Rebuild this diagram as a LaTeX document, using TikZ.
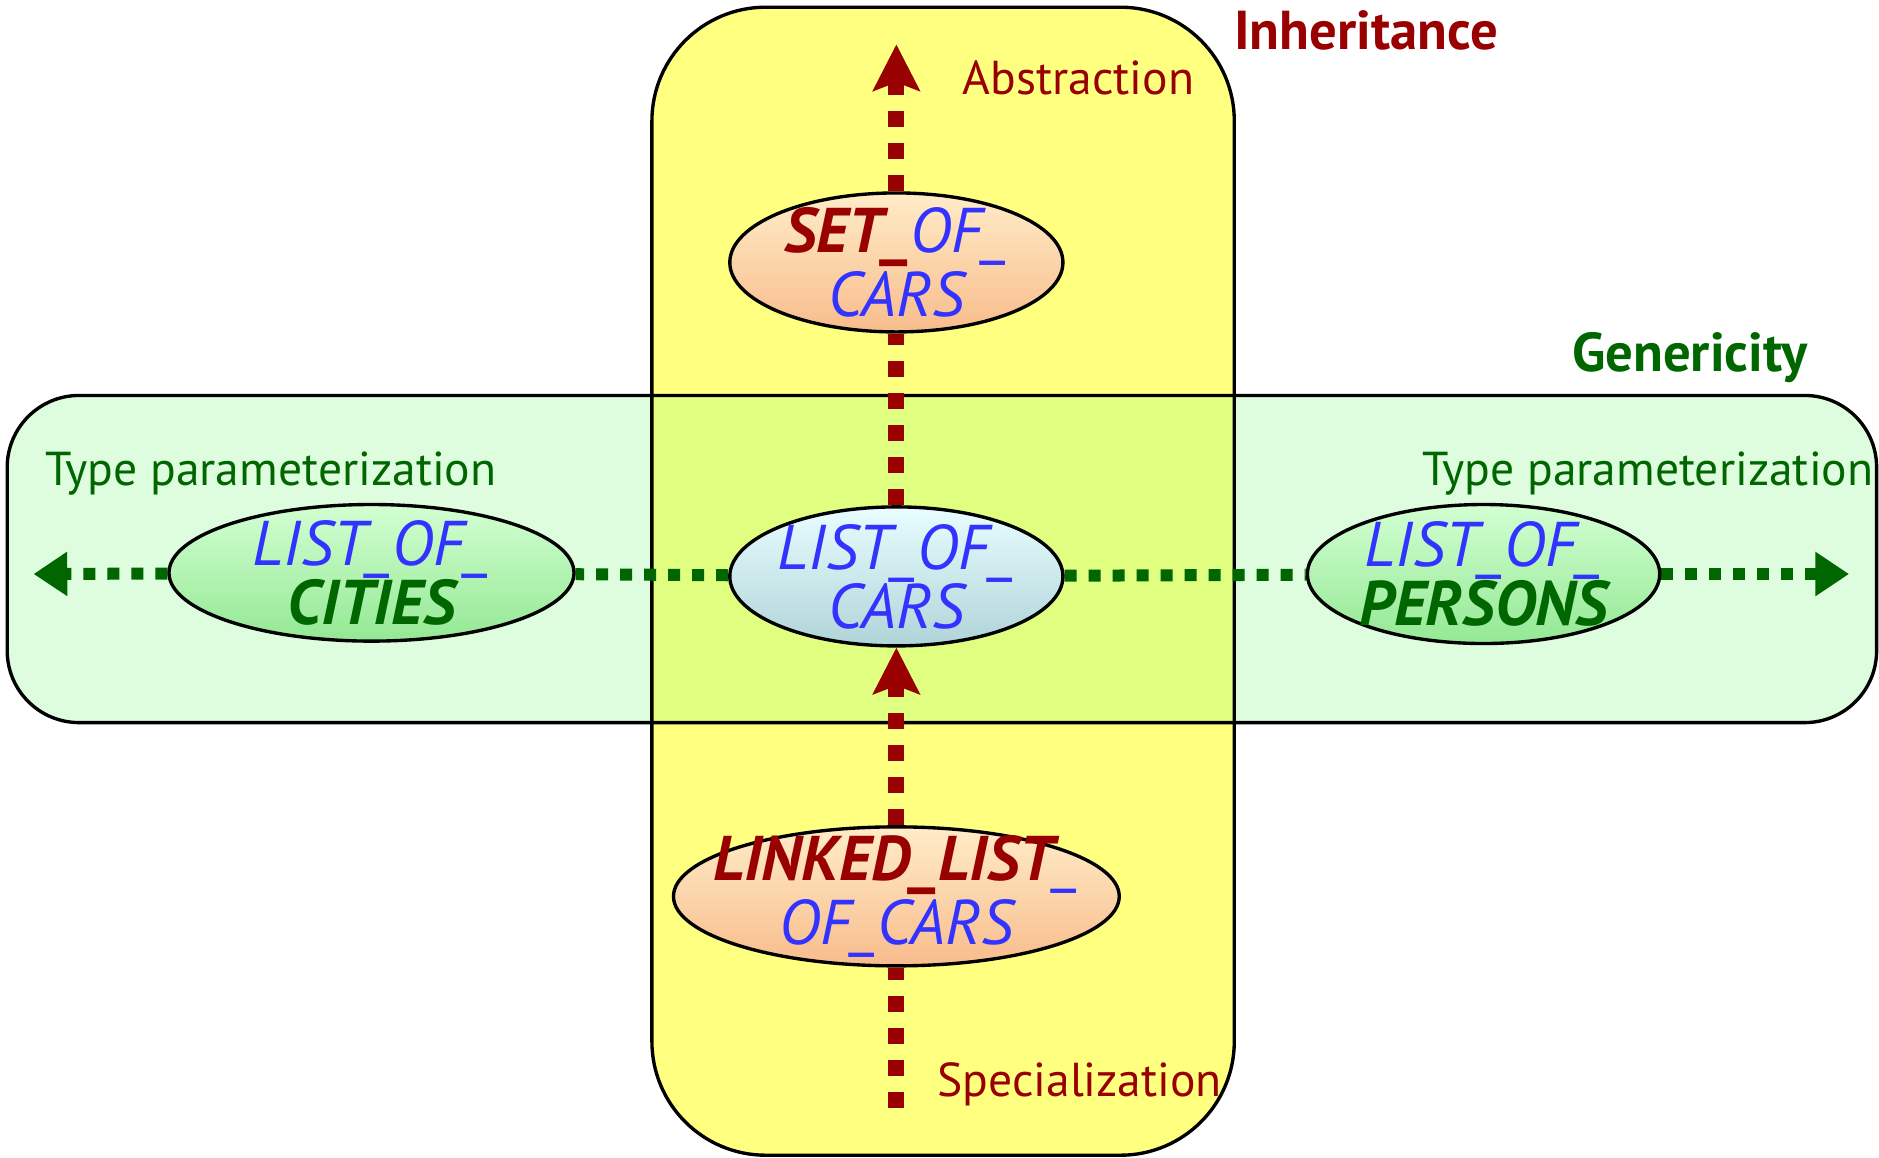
\documentclass[tikz,border=0pt]{standalone}
\usepackage{fontspec}
\setmainfont{PT Sans}
\usetikzlibrary{positioning,shapes.geometric,arrows.meta,backgrounds}
\definecolor{inhred}{RGB}{153,0,0}
\definecolor{gengreen}{RGB}{0,102,0}
\definecolor{clsblue}{RGB}{51,51,255}
\definecolor{boxyellow}{RGB}{255,255,128}
\definecolor{boxgreen}{RGB}{222,252,222}
\definecolor{boxmix}{RGB}{224,255,128}

\begin{document}
\begin{tikzpicture}[
  cls/.style={ellipse,draw=black,line width=0.8pt,inner xsep=-3mm,inner ysep=-2mm,align=center,
    font=\fontsize{15}{14}\selectfont\itshape,text=clsblue},
  orangecls/.style={cls,top color={rgb,255:red,255;green,236;blue,200},bottom color={rgb,255:red,248;green,188;blue,140}},
  bluecls/.style={cls,top color={rgb,255:red,232;green,253;blue,255},bottom color={rgb,255:red,176;green,212;blue,216}},
  greencls/.style={cls,top color={rgb,255:red,210;green,255;blue,210},bottom color={rgb,255:red,148;green,232;blue,148}},
  biglabel/.style={font=\fontsize{13}{15}\selectfont\bfseries,inner sep=0pt},
  sublabel/.style={font=\fontsize{11.3}{13}\selectfont,inner sep=0pt},
  inhline/.style={inhred,line width=3.8pt,dash pattern=on 3.8pt off 3.8pt},
  inharrow/.style={inhline,-{Stealth[length=11pt,width=11pt,inset=2pt]}},
  genline/.style={gengreen,line width=2.85pt,dash pattern=on 2.85pt off 2.85pt},
  genarrow/.style={genline,-{Triangle[length=8pt,width=10pt]}}
]
\useasboundingbox (0,0) rectangle (15.68,9.66);

\begin{scope}[on background layer]
\fill[boxyellow,rounded corners=0.95cm] (5.44,0.02) rectangle (10.30,9.60);
\fill[boxgreen,rounded corners=0.6cm] (0.06,3.63) rectangle (15.66,6.36);
\begin{scope}
\clip[rounded corners=0.95cm] (5.44,0.02) rectangle (10.30,9.60);
\fill[boxmix] (0.06,3.63) rectangle (15.66,6.36);
\end{scope}
\draw[line width=0.8pt,rounded corners=0.95cm] (5.44,0.02) rectangle (10.30,9.60);
\draw[line width=0.8pt,rounded corners=0.6cm] (0.06,3.63) rectangle (15.66,6.36);
\end{scope}

\node[orangecls,minimum width=2.78cm,minimum height=1.16cm] (set) at (7.48,7.47)
  {\textcolor{inhred}{\bfseries SET\_}OF\_\\CARS};
\node[bluecls,minimum width=2.78cm,minimum height=1.16cm] (cars) at (7.48,4.85)
  {LIST\_OF\_\\CARS};
\node[greencls,minimum width=3.38cm,minimum height=1.14cm] (cities) at (3.10,4.88)
  {LIST\_OF\_\\\textcolor{gengreen}{\bfseries CITIES}};
\node[greencls,minimum width=2.94cm,minimum height=1.16cm] (persons) at (12.38,4.87)
  {LIST\_OF\_\\\textcolor{gengreen}{\bfseries PERSONS}};
\node[orangecls,minimum width=3.72cm,minimum height=1.16cm] (linked) at (7.48,2.18)
  {\textcolor{inhred}{\bfseries LINKED\_LIST}\_\\OF\_CARS};

\coordinate (topend) at (7.48,9.29);
\coordinate (bottomend) at (7.48,0.41);
\coordinate (leftend) at (0.28,4.87);
\coordinate (rightend) at (15.43,4.87);

\node[biglabel,text=inhred] (inh) at (11.40,9.41) {Inheritance};
\node[sublabel,text=inhred] (abstr) at (9.00,9.01) {Abstraction};
\node[sublabel,text=inhred] (spec) at (9.01,0.61) {Specialization};
\node[biglabel,text=gengreen] (gen) at (14.10,6.68) {Genericity};
\node[sublabel,text=gengreen] (typeleft) at (2.26,5.71) {Type parameterization};
\node[sublabel,text=gengreen] (typeright) at (13.75,5.71) {Type parameterization};

\begin{scope}[on background layer]
\draw[inhline] (bottomend) -- (linked);
\draw[inharrow] (linked) -- (cars);
\draw[inhline] (cars) -- (set);
\draw[inharrow] (set) -- (topend);
\draw[genline] (cars) -- (cities);
\draw[genarrow] (cities) -- (leftend);
\draw[genline] (cars) -- (persons);
\draw[genarrow] (persons) -- (rightend);
\end{scope}
\end{tikzpicture}
\end{document}
